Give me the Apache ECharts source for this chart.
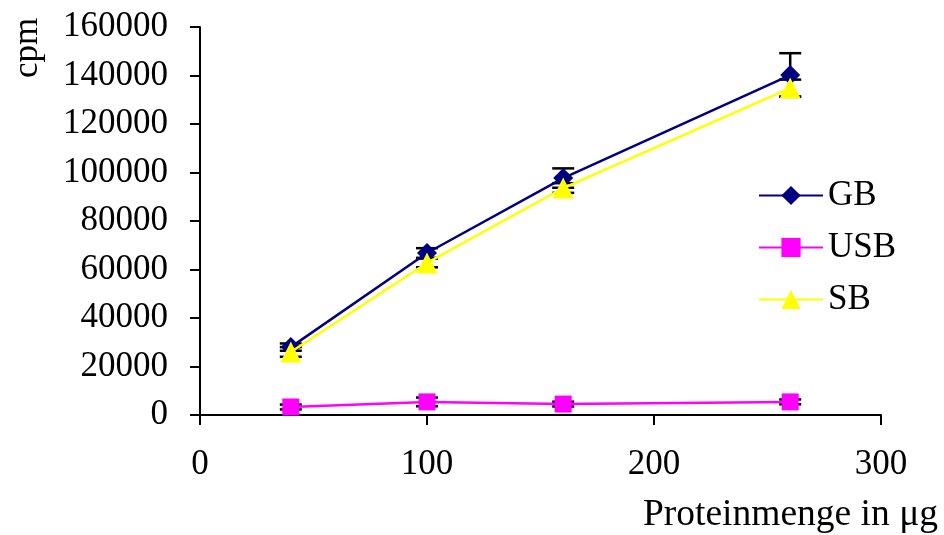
<!DOCTYPE html>
<html>
<head>
<meta charset="utf-8">
<script src="https://cdn.jsdelivr.net/npm/echarts@6/dist/echarts.min.js"></script>
<style>html,body{margin:0;padding:0;background:#fff}#c{width:944px;height:535px}</style>
</head>
<body>
<div id="c"></div>
<script>
var xValues = [40, 100, 160, 260];
var gbValues = [28000, 66800, 97700, 140200];
var usbValues = [3300, 5400, 4500, 5400];
var sbValues = [26000, 62700, 93600, 134800];
var gbErr = [1500, 2000, 4000, 9000];
var usbErr = [1000, 1800, 1000, 1000];
var sbErr = [2000, 1800, 2000, 3500];
var seriesNames = ['GB', 'USB', 'SB'];
var xTicks = [0, 100, 200, 300];
var yTicks = [0, 20000, 40000, 60000, 80000, 100000, 120000, 140000, 160000];
var xTitle = 'Proteinmenge in μg';
var yTitle = 'cpm';

function pairs(vals) { return xValues.map(function (x, i) { return [x, vals[i]]; }); }
function errData(vals, errs) { return xValues.map(function (x, i) { return [x, vals[i], errs[i]]; }); }

function errRender(params, api) {
  var x = api.value(0), y = api.value(1), e = api.value(2);
  var hi = api.coord([x, y + e]);
  var lo = api.coord([x, y - e]);
  var w = 11;
  var st = { stroke: '#000', lineWidth: 2.5 };
  return { type: 'group', children: [
    { type: 'line', shape: { x1: hi[0], y1: hi[1], x2: lo[0], y2: lo[1] }, style: st },
    { type: 'line', shape: { x1: hi[0] - w, y1: hi[1], x2: hi[0] + w, y2: hi[1] }, style: st },
    { type: 'line', shape: { x1: lo[0] - w, y1: lo[1], x2: lo[0] + w, y2: lo[1] }, style: st }
  ]};
}

var font = '"Liberation Serif", "Times New Roman", serif';
var chart = echarts.init(document.getElementById('c'), null, { renderer: 'canvas' });
chart.setOption({
  animation: false,
  backgroundColor: '#fff',
  grid: { left: 200, right: 63, top: 27, bottom: 120, containLabel: false, outerBoundsMode: 'none' },
  legend: {
    orient: 'vertical', left: 758, top: 178, padding: 0,
    data: seriesNames,
    itemWidth: 64, itemHeight: 24, itemGap: 17,
    textStyle: { fontFamily: font, fontSize: 35, color: '#000', padding: [0, 0, 0, 0] }
  },
  graphic: [
    { type: 'text', right: 6, top: 496, style: { text: xTitle, fontFamily: font, fontSize: 37.5, fill: '#000' } },
    { type: 'text', x: 10, y: 78, rotation: Math.PI / 2, style: { text: yTitle, fontFamily: font, fontSize: 35, fill: '#000' } }
  ],
  xAxis: {
    type: 'value', min: 0, max: 300, interval: 100,
    axisLine: { lineStyle: { color: '#000', width: 2 } },
    axisTick: { show: true, inside: false, length: 10, lineStyle: { color: '#000', width: 2 } },
    axisLabel: { fontFamily: font, fontSize: 35, color: '#000', margin: 32,
      formatter: function (v) { return xTicks.indexOf(v) >= 0 ? String(v) : ''; } },
    splitLine: { show: false }
  },
  yAxis: {
    type: 'value', min: 0, max: 160000, interval: 20000,
    axisLine: { show: true, lineStyle: { color: '#000', width: 2 } },
    axisTick: { show: true, length: 10, lineStyle: { color: '#000', width: 2 } },
    axisLabel: { fontFamily: font, fontSize: 35, color: '#000', margin: 32,
      formatter: function (v) { return yTicks.indexOf(v) >= 0 ? String(v) : ''; } },
    splitLine: { show: false }
  },
  series: [
    { type: 'custom', name: 'errGB', renderItem: errRender, data: errData(gbValues, gbErr), z: 1 },
    { type: 'custom', name: 'errUSB', renderItem: errRender, data: errData(usbValues, usbErr), z: 1 },
    { type: 'custom', name: 'errSB', renderItem: errRender, data: errData(sbValues, sbErr), z: 1 },
    { type: 'line', name: 'GB', data: pairs(gbValues), color: '#000080',
      symbol: 'diamond', symbolSize: 20, lineStyle: { width: 2.5, color: '#000080' },
      itemStyle: { color: '#000080' }, z: 3 },
    { type: 'line', name: 'USB', data: pairs(usbValues), color: '#FF00FF',
      symbol: 'rect', symbolSize: 17, lineStyle: { width: 2.5, color: '#FF00FF' },
      itemStyle: { color: '#FF00FF' }, z: 3 },
    { type: 'line', name: 'SB', data: pairs(sbValues), color: '#FFFF00',
      symbol: 'triangle', symbolSize: 21, lineStyle: { width: 2.5, color: '#FFFF00' },
      itemStyle: { color: '#FFFF00' }, z: 4 }
  ]
});
</script>
</body>
</html>
